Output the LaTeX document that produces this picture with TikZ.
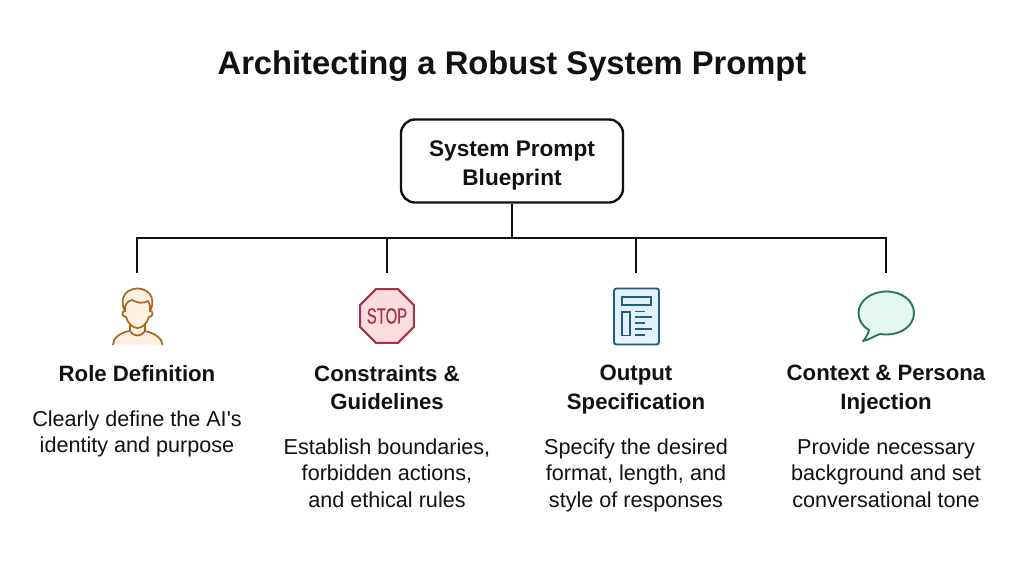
\documentclass[tikz,border=0pt]{standalone}
\usepackage{fontspec}
\setmainfont{Liberation Sans}
\newfontfamily\aposfont{Liberation Sans}
\usetikzlibrary{shapes.geometric}
\definecolor{rolecol}{HTML}{A8661E}
\definecolor{rolefill}{HTML}{FDF0E3}
\definecolor{stopcol}{HTML}{A53343}
\definecolor{stopfill}{HTML}{FBDDE0}
\definecolor{doccol}{HTML}{1F5F7F}
\definecolor{docfill}{HTML}{E3F1FA}
\definecolor{talkcol}{HTML}{2A7563}
\definecolor{talkfill}{HTML}{E3F6EF}
\definecolor{inkcol}{HTML}{111111}
\tikzset{
  headtext/.style={font=\fontsize{22.2}{28.5}\selectfont\bfseries, align=center, text=inkcol, anchor=north},
  bodytext/.style={font=\fontsize{21.6}{26.5}\selectfont, align=center, text=inkcol, anchor=north},
  wire/.style={draw=inkcol, line width=2.4pt},
}
\begin{document}
\begin{tikzpicture}[x=1pt,y=-1pt]
\useasboundingbox (0,0) rectangle (1024,572);
\fill[white] (0,0) rectangle (1024,572);

\node[font=\fontsize{32.7}{38}\selectfont\bfseries, text=inkcol] (title) at (512,66) {Architecting a Robust System Prompt};

\node[draw=inkcol, line width=2.4pt, rounded corners=14pt, minimum width=222pt, minimum height=83pt, align=center,
  font=\fontsize{22.6}{28.5}\selectfont\bfseries, text=inkcol] (root) at (512,161) {\rule{0pt}{25pt}System Prompt\\Blueprint};

\coordinate (busleft) at (137,238);
\coordinate (busmid) at (512,238);
\coordinate (busright) at (886,238);
\coordinate (role) at (137,238);
\coordinate (rule) at (387,238);
\coordinate (spec) at (636,238);
\coordinate (talk) at (886,238);
\coordinate (roleend) at (137,273);
\coordinate (ruleend) at (387,273);
\coordinate (specend) at (636,273);
\coordinate (talkend) at (886,273);

\path[wire] (root) -- (busmid);
\path[wire, line cap=rect] (busleft) -- (busright);
\path[wire] (role) -- (roleend);
\path[wire] (rule) -- (ruleend);
\path[wire] (spec) -- (specend);
\path[wire] (talk) -- (talkend);

% person
\begin{scope}[draw=rolecol, fill=rolefill, line width=1.7pt, line join=round, line cap=round]
\path[fill] (113,344.5) .. controls (113,338) and (120,333) .. (129,331) -- (145,331) .. controls (154,333) and (162,338) .. (162.5,344.5) -- cycle;
\path[draw] (113,344.5) .. controls (113,338) and (120,333) .. (129,331) (162.5,344.5) .. controls (162,338) and (154,333) .. (145,331);
\path[draw, fill] (130,324) -- (130,331) .. controls (133,337) and (142,337) .. (145,331) -- (145,324);
\path[draw, fill] (125,304) -- (125,311) .. controls (121,311) and (122,317) .. (126,317)
  .. controls (128,324) and (133,328) .. (137.5,328) .. controls (142,328) and (147,324) .. (149,317)
  .. controls (153,317) and (154,311) .. (150,311) -- (150,304);
\path[draw, fill] (125,311) .. controls (120,303) and (122,289) .. (137.5,288.5) .. controls (153,289) and (155,303) .. (150,311)
  .. controls (151,306) and (149,303) .. (148,301) .. controls (143,304) and (137,303) .. (132,300) .. controls (127,301) and (124,306) .. (125,311) -- cycle;
\end{scope}

% stop sign
\node[regular polygon, regular polygon sides=8, draw=stopcol, fill=stopfill, line width=2pt, minimum size=58pt, inner sep=0pt] (stop) at (387,316) {};
\node[font=\fontsize{22}{22}\selectfont, text=stopcol, inner sep=0pt] (stoptext) at (stop.center) {\addfontfeature{FakeStretch=0.68}\addfontfeature{FakeBold=0.4}STOP};

% document
\path[draw=doccol, fill=docfill, line width=1.9pt, rounded corners=2.5pt] (614,288.5) rectangle (659,344.5);
\path[draw=doccol, line width=1.8pt] (622,297) rectangle (651,305);
\path[draw=doccol, line width=1.8pt] (622,312) rectangle (630,335.5);
\path[draw=doccol, line width=1.8pt] (635,311.5) -- (645,311.5) (635,317.3) -- (651.5,317.3) (635,323.3) -- (645,323.3) (635,329.3) -- (651.5,329.3) (635,335.3) -- (645,335.3);

% speech bubble
\path[draw=talkcol, fill=talkfill, line width=1.9pt, line join=round] (869,330)
  .. controls (862,326) and (858.5,320) .. (858.5,313)
  .. controls (858.5,301) and (871,291.5) .. (886.5,291.5)
  .. controls (902,291.5) and (914,301) .. (914,313)
  .. controls (914,325) and (902,334.5) .. (886.5,334.5)
  .. controls (884,334.5) and (882,334.3) .. (880,334)
  .. controls (874,336) and (869,340) .. (863,341)
  .. controls (866,338) and (868,334) .. (869,330) -- cycle;

\node[headtext] (rolehead) at (137,361.5) {Role Definition};
\node[headtext] (rulehead) at (387,361.5) {Constraints \&\\Guidelines};
\node[headtext] (spechead) at (636,361.5) {Output\\Specification};
\node[headtext] (talkhead) at (886,361.5) {Context \& Persona\\Injection};

\node[bodytext] (rolebody) at (137,407) {Clearly define the AI{\aposfont\symbol{39}}s\\identity and purpose};
\node[bodytext] (rulebody) at (387,435) {Establish boundaries,\\forbidden actions,\\and ethical rules};
\node[bodytext] (specbody) at (636,435) {Specify the desired\\format, length, and\\style of responses};
\node[bodytext] (talkbody) at (886,435) {Provide necessary\\background and set\\conversational tone};
\end{tikzpicture}
\end{document}
